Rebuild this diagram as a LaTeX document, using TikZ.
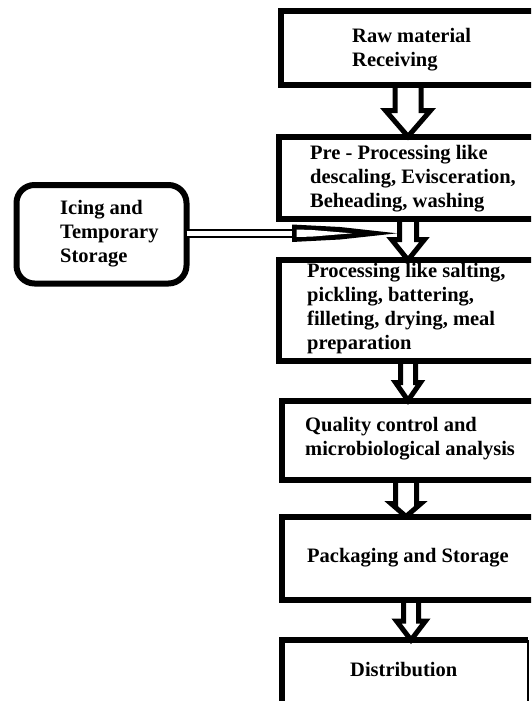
\documentclass[tikz,border=0pt]{standalone}
\usepackage{fontspec}
\setmainfont{Liberation Serif}
\usetikzlibrary{calc,backgrounds}
\tikzset{
  boxshape/.style={draw=black, line width=6pt, rectangle, inner sep=0pt, outer sep=0pt},
  icebox/.style={draw=black, line width=6pt, rectangle, rounded corners=18pt, inner sep=0pt, outer sep=0pt},
  lbl/.style={anchor=west, align=left, inner sep=0pt, font=\fontsize{20.5}{24}\selectfont\bfseries},
  blockarrow/.style={draw=black, fill=white, line width=5pt, line join=miter},
}
\newcommand\barr[6]{%
  \draw[blockarrow] let \p1=(#1.south), \p2=(#2.north) in
   ({#3pt-#4pt},{\y1-3pt}) -- ({#3pt-#4pt},{\y2+#6pt}) -- ({#3pt-#5pt},{\y2+#6pt})
   -- (#3pt,\y2) -- ({#3pt+#5pt},{\y2+#6pt}) -- ({#3pt+#4pt},{\y2+#6pt})
   -- ({#3pt+#4pt},{\y1-3pt});}
\begin{document}
\begin{tikzpicture}[x=1pt,y=-1pt]
\useasboundingbox (0,0) rectangle (531,701);
\clip (0,0) rectangle (531,701);
% boxes
\node[boxshape, minimum width=264pt, minimum height=73.5pt] (b1) at (413,48.25) {};
\node[boxshape, minimum width=266.5pt, minimum height=82pt] (b2) at (411.75,177.5) {};
\node[boxshape, minimum width=266.5pt, minimum height=101pt] (b3) at (411.75,310.5) {};
\node[boxshape, minimum width=263.5pt, minimum height=79.5pt] (b4) at (413.25,440.25) {};
\node[boxshape, minimum width=263.5pt, minimum height=83.5pt] (b5) at (413.25,558.25) {};
\node[rectangle, inner sep=0pt, outer sep=0pt, minimum width=246.5pt, minimum height=80pt] (b6) at (404.75,680) {};
\draw[line width=6pt] (b6.south west) -- (b6.north west) -- (b6.north east);
\draw[line width=1.5pt] (b6.north east) -- (b6.south east);
\node[icebox, minimum width=170pt, minimum height=98.5pt] (ice) at (101.5,234.25) {};
% labels
\node[lbl] (t1) at (352,50) {Raw material\\Receiving};
\node[lbl] (t2) at (310,179) {Pre - Processing like\\descaling, Evisceration,\\Beheading, washing};
\node[lbl] (t7) at (60,233.5) {Icing and\\Temporary\\Storage};
\node[lbl] (t3) at (307,309) {Processing like salting,\\pickling, battering,\\filleting, drying, meal\\preparation};
\node[lbl] (t4) at (305,438.5) {Quality control and\\microbiological analysis};
\node[lbl] (t5) at (307,558) {Packaging and Storage};
\node[lbl] (t6) at (350,670) {Distribution};
% arrows
\begin{scope}[on background layer]
\fill[white] (0,0) rectangle (531,701);
\barr{b1}{b2}{408}{13}{22.5}{26}
\barr{b2}{b3}{408}{8.5}{16.5}{20.5}
\barr{b3}{b4}{408}{7.5}{12.5}{18}
\barr{b4}{b5}{406}{10.5}{15}{13}
\barr{b5}{b6}{411}{7.5}{14.5}{19}
\end{scope}
% double arrow from icing box
\coordinate (jn) at (397,233.3);
\coordinate (hb) at (294,233.3);
\draw[line width=2pt, double=white, double distance=4.5pt] (ice.east |- hb) -- (hb);
\fill[black] (292,224.5) -- (340,227) -- (jn) -- (340,239.5) -- (292,242) -- cycle;
\fill[white] (296.5,229.5) -- (312,230) -- (352,233.3) -- (312,236.6) -- (296.5,237) -- cycle;
\end{tikzpicture}
\end{document}
